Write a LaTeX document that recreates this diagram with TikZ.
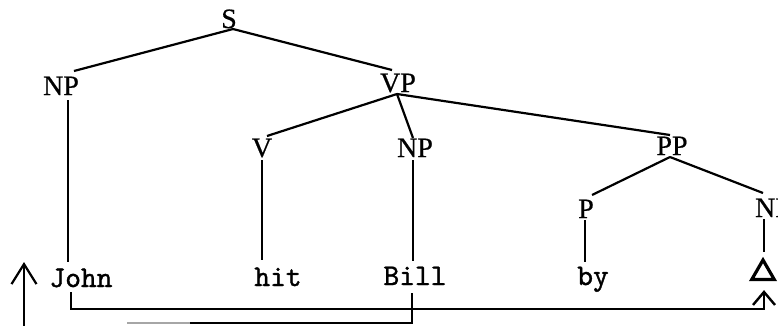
\documentclass[tikz,border=0pt]{standalone}
\usepackage{fontspec}
\setmainfont[FakeBold=0.6]{Liberation Serif}
\newfontfamily\twfont[FakeBold=1.2]{lmmono10-regular.otf}
\usetikzlibrary{arrows.meta,shapes.geometric}
\begin{document}
\begin{tikzpicture}[x=1pt,y=-1pt,
  lab/.style={inner sep=0pt,outer sep=0pt,anchor=base,text height=18pt,text depth=0pt,font=\fontsize{28}{30}\selectfont},
  word/.style={inner sep=0pt,outer sep=0pt,anchor=base,text height=18pt,text depth=0pt,font=\twfont\fontsize{30}{32}\selectfont},
  br/.style={line width=2.2pt},
  tipbig/.style={-{Straight Barb[length=20pt,width=25pt,line width=2.2pt]}},
  tipsmall/.style={-{Straight Barb[length=13pt,width=22pt,line width=2.4pt]}}]
\useasboundingbox (0,0) rectangle (778,325);
% labels
\node[lab] (S)   at (229,28)  {S};
\node[lab] (np1) at (61,95)   {NP};
\node[lab] (vp)  at (398,92)  {VP};
\node[lab] (v)   at (262,157) {V};
\node[lab] (np2) at (415,157) {NP};
\node[lab] (pp)  at (672,155) {PP};
\node[lab] (p)   at (586,218) {P};
\node[lab] (np3) at (773,217) {NP};
% words
\node[word] (john) at (81,287)  {John};
\node[word] (hit)  at (278,286) {hit};
\node[word] (bill) at (415,285) {Bill};
\node[word] (by)   at (593,285) {by};
\node[draw,regular polygon,regular polygon sides=3,minimum size=26pt,inner sep=0pt,line width=3.2pt] (tri) at (763,273) {};
% tree branches
\draw[br] ([shift={(4,1)}]S.south) -- ([shift={(13,-6)}]np1.north);
\draw[br] ([shift={(4,1)}]S.south) -- ([shift={(-6,-4)}]vp.north);
\draw[br] ([shift={(-1,2)}]vp.south) -- ([shift={(5,-3)}]v.north);
\draw[br] ([shift={(-1,2)}]vp.south) -- ([shift={(-2,-1)}]np2.north);
\draw[br] ([shift={(-1,2)}]vp.south) -- ([shift={(-2,-2)}]pp.north);
\draw[br] ([shift={(-2,2)}]pp.south) -- ([shift={(6,-5)}]p.north);
\draw[br] ([shift={(-2,2)}]pp.south) -- ([shift={(-10,-6)}]np3.north);
% vertical lines to words
\draw[br] ([shift={(7,5)}]np1.south) -- ([shift={(-13,-7)}]john.north);
\draw[br] ([shift={(0,3)}]v.south) -- ([shift={(-16,-8)}]hit.north);
\draw[br] ([shift={(-2,3)}]np2.south) -- ([shift={(-2,-6)}]bill.north);
\draw[br] ([shift={(-1,2)}]p.south) -- ([shift={(-8,-5)}]by.north);
\draw[br] ([shift={(-9,2)}]np3.south) -- ([shift={(1,-5)}]tri.north);
% movement arrows
\coordinate (ret) at (764,309);
\draw[br,tipsmall] ([shift={(-10,5)}]john.south) |- (ret) -- ([shift={(1,9)}]tri.south);
\coordinate (lb) at (24,330);
\coordinate (lt) at (24,262);
\draw[br,tipbig] (lb) -- (lt);
\coordinate (fm) at (190,323);
\coordinate (fl) at (127,323);
\draw[line width=1.6pt] ([shift={(-3,8)}]bill.south) |- (fm);
\draw[line width=1.6pt,black!35] (fm) -- (fl);
\end{tikzpicture}
\end{document}
